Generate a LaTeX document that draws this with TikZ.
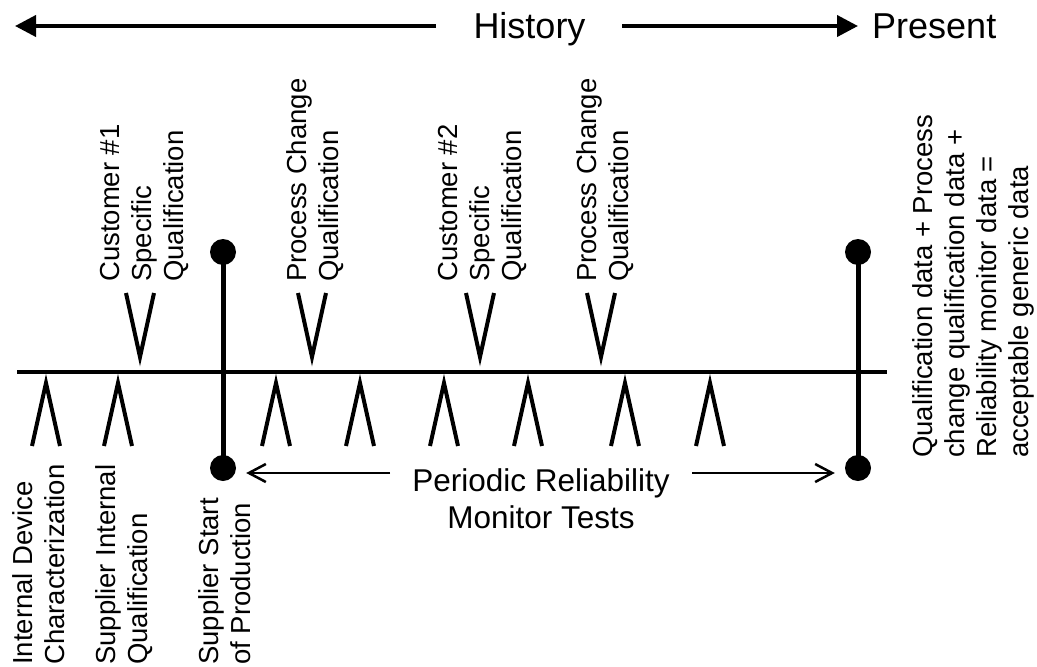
\documentclass[tikz,border=0pt]{standalone}
\usepackage{fontspec}
\setmainfont{Liberation Sans}
\usetikzlibrary{arrows.meta}

\begin{document}
\begin{tikzpicture}[
            x = 1pt, y = -1pt,
   axis/.style = {line width=4pt},
   tick/.style = {line width=4pt},
    bar/.style = {line width=5pt},
    dot/.style = {circle, fill, inner sep=0pt, minimum size=26pt},
  epoch/.style = {line width=4pt, -{Triangle[length=21pt,width=21pt]}},
monitor/.style = {line width=2.5pt, -{Straight Barb[length=17pt,width=18pt]}},
   head/.style = {inner sep=0pt, font=\fontsize{36}{40}\selectfont},
    lbl/.style = {rotate=90, anchor=west, align=left, inner sep=0pt,
                  font=\fontsize{27.5}{32}\selectfont}
                        ]
\useasboundingbox (0,0) rectangle (1037,667);
%
% time axis on top
\node (hist) [head, anchor=base] at (529.5,38.5) {History};
\node (pres) [head, anchor=base west] at (872,38.5) {Present};
\coordinate (pastL) at (436,26);
\coordinate (pastTip) at (15,26);
\coordinate (nowL) at (622,26);
\draw[epoch] (pastL) -- (pastTip);
\draw[epoch, shorten >=14pt] (nowL) -- (nowL -| pres.west);
%
% time line
\coordinate (tlL) at (17,372);
\coordinate (tlR) at (887,372);
\draw[axis] (tlL) -- (tlR);
\foreach \x in {140,312,480,601}
    \draw[tick] (\x-14,293) -- (\x,357) -- (\x+14,293);
\foreach \x in {46,118,276,360,444,528,625,710}
    \draw[tick] (\x-14,446) -- (\x,383) -- (\x+14,446);
%
% start of production and present
\node (sopTop) [dot] at (223,252) {};
\node (sopBot) [dot] at (223,468) {};
\node (nowTop) [dot] at (858,252) {};
\node (nowBot) [dot] at (858,468) {};
\draw[bar] (sopTop.center) -- (sopBot.center);
\draw[bar] (nowTop.center) -- (nowBot.center);
%
% labels
\node (idc)  [lbl] at (38.75,665) {Internal Device\\Characterization};
\node (siq)  [lbl] at (124,665)   {Supplier Internal\\Qualification};
\node (ssp)  [lbl] at (225,665)   {Supplier Start\\of Production};
\node (cq1)  [lbl] at (144.75,282) {Customer \#1\\Specific\\Qualification};
\node (pcq1) [lbl] at (314.75,282) {Process Change\\Qualification};
\node (cq2)  [lbl] at (482.75,282) {Customer \#2\\Specific\\Qualification};
\node (pcq2) [lbl] at (604.75,282) {Process Change\\Qualification};
\node (gen)  [lbl] at (973,458)
    {Qualification data + Process\\change qualification data +\\Reliability monitor data =\\acceptable generic data};
%
% periodic monitor
\node (prm) [inner sep=0pt, align=center, anchor=north,
             font=\fontsize{31.5}{37}\selectfont] at (541,468)
    {Periodic Reliability\\Monitor Tests};
\coordinate (prmL) at (390,473);
\coordinate (prmR) at (692,473);
\draw[monitor, shorten >=10pt] (prmL) -- (prmL -| sopBot.east);
\draw[monitor, shorten >=10pt] (prmR) -- (prmR -| nowBot.west);
\end{tikzpicture}
\end{document}
